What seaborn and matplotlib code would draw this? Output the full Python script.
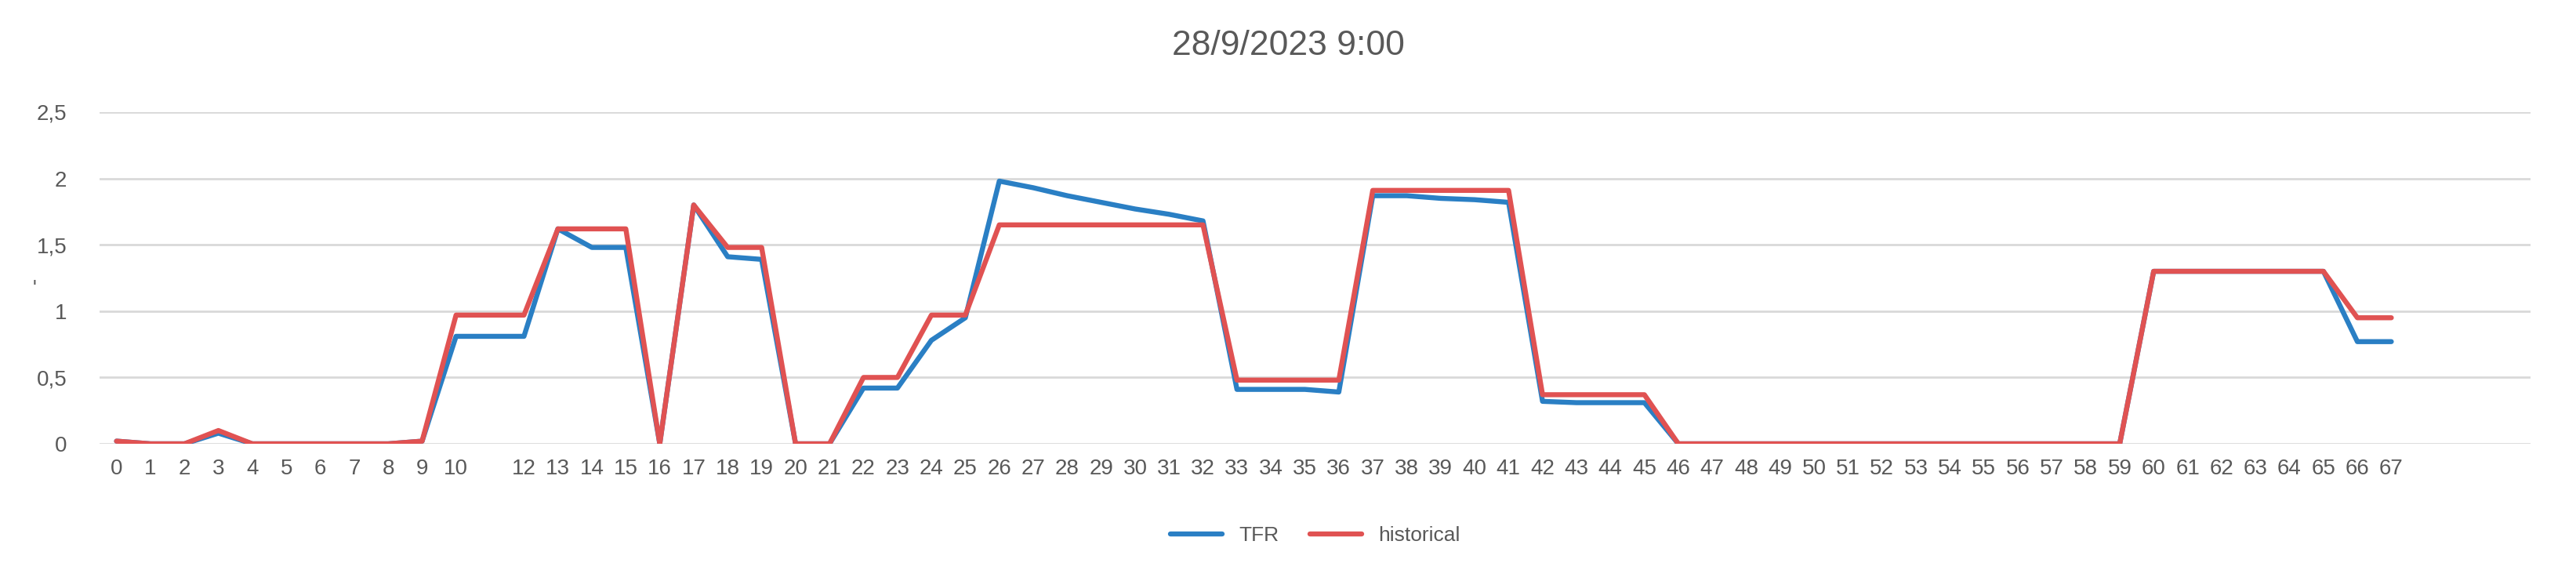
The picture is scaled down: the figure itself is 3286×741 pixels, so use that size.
import matplotlib
matplotlib.use("Agg")
import matplotlib.pyplot as plt
import seaborn as sns
import pandas as pd

# category labels (the 11th category has no label shown)
x_labels = [str(i) for i in range(68)]
x_labels[11] = ""

tfr = [0.02, 0, 0, 0.08, 0, 0, 0, 0, 0, 0.02,
       0.81, 0.81, 0.81, 1.62, 1.48, 1.48, 0, 1.80, 1.41, 1.39,
       0, 0, 0.42, 0.42, 0.78, 0.95, 1.98, 1.93, 1.87, 1.82,
       1.77, 1.73, 1.68, 0.41, 0.41, 0.41, 0.39, 1.87, 1.87, 1.85,
       1.84, 1.82, 0.32, 0.31, 0.31, 0.31, 0, 0, 0, 0,
       0, 0, 0, 0, 0, 0, 0, 0, 0, 0,
       1.30, 1.30, 1.30, 1.30, 1.30, 1.30, 0.77, 0.77]
historical = [0.02, 0, 0, 0.10, 0, 0, 0, 0, 0, 0.02,
              0.97, 0.97, 0.97, 1.62, 1.62, 1.62, 0, 1.80, 1.48, 1.48,
              0, 0, 0.50, 0.50, 0.97, 0.97, 1.65, 1.65, 1.65, 1.65,
              1.65, 1.65, 1.65, 0.48, 0.48, 0.48, 0.48, 1.91, 1.91, 1.91,
              1.91, 1.91, 0.37, 0.37, 0.37, 0.37, 0, 0, 0, 0,
              0, 0, 0, 0, 0, 0, 0, 0, 0, 0,
              1.30, 1.30, 1.30, 1.30, 1.30, 1.30, 0.95, 0.95]

df = pd.DataFrame({"x": range(68), "TFR": tfr, "historical": historical})
long = df.melt(id_vars="x", var_name="series", value_name="value")

sns.set_style("white")
plt.rcParams["font.family"] = ["Liberation Sans", "DejaVu Sans"]
grey = "#595959"

fig = plt.figure(figsize=(32.87, 7.41), dpi=100)
ax = fig.add_axes([127 / 3287, 1 - 566 / 741, (3228 - 127) / 3287, (566 - 143) / 741])

sns.lineplot(data=long, x="x", y="value", hue="series",
             palette={"TFR": "#2a7fc4", "historical": "#e05252"},
             linewidth=4.6, ax=ax, legend=True)

ax.set_xlim(-0.5, 71.1)
ax.set_ylim(0, 2.5)
ax.set_xticks(range(68))
ax.set_xticklabels(x_labels)
ax.set_yticks([0, 0.5, 1, 1.5, 2, 2.5])
ax.set_yticklabels(["0", "0,5", "1", "1,5", "2", "2,5"])
ax.tick_params(axis="both", length=0, labelsize=20, colors=grey, pad=14)
ax.tick_params(axis="y", pad=30)
ax.yaxis.grid(True, color="#d9d9d9", linewidth=2)
sns.despine(ax=ax, left=True, bottom=True, top=True, right=True)
ax.set_xlabel("")
ax.set_ylabel("")

fig.suptitle("28/9/2023 9:00", y=1 - 38 / 741, fontsize=32, color=grey)
fig.text(42 / 3287, 1 - 375 / 741, "'", fontsize=18, color=grey)

ax.legend(handles=ax.get_legend().legend_handles, labels=["TFR", "historical"],
          loc="center", bbox_to_anchor=(0.5, (566 - 683) / 423), ncol=2,
          frameon=False, fontsize=19, handlelength=2.5, columnspacing=1.5,
          labelcolor=grey)

fig.savefig("out.png", dpi=100, facecolor="white")
